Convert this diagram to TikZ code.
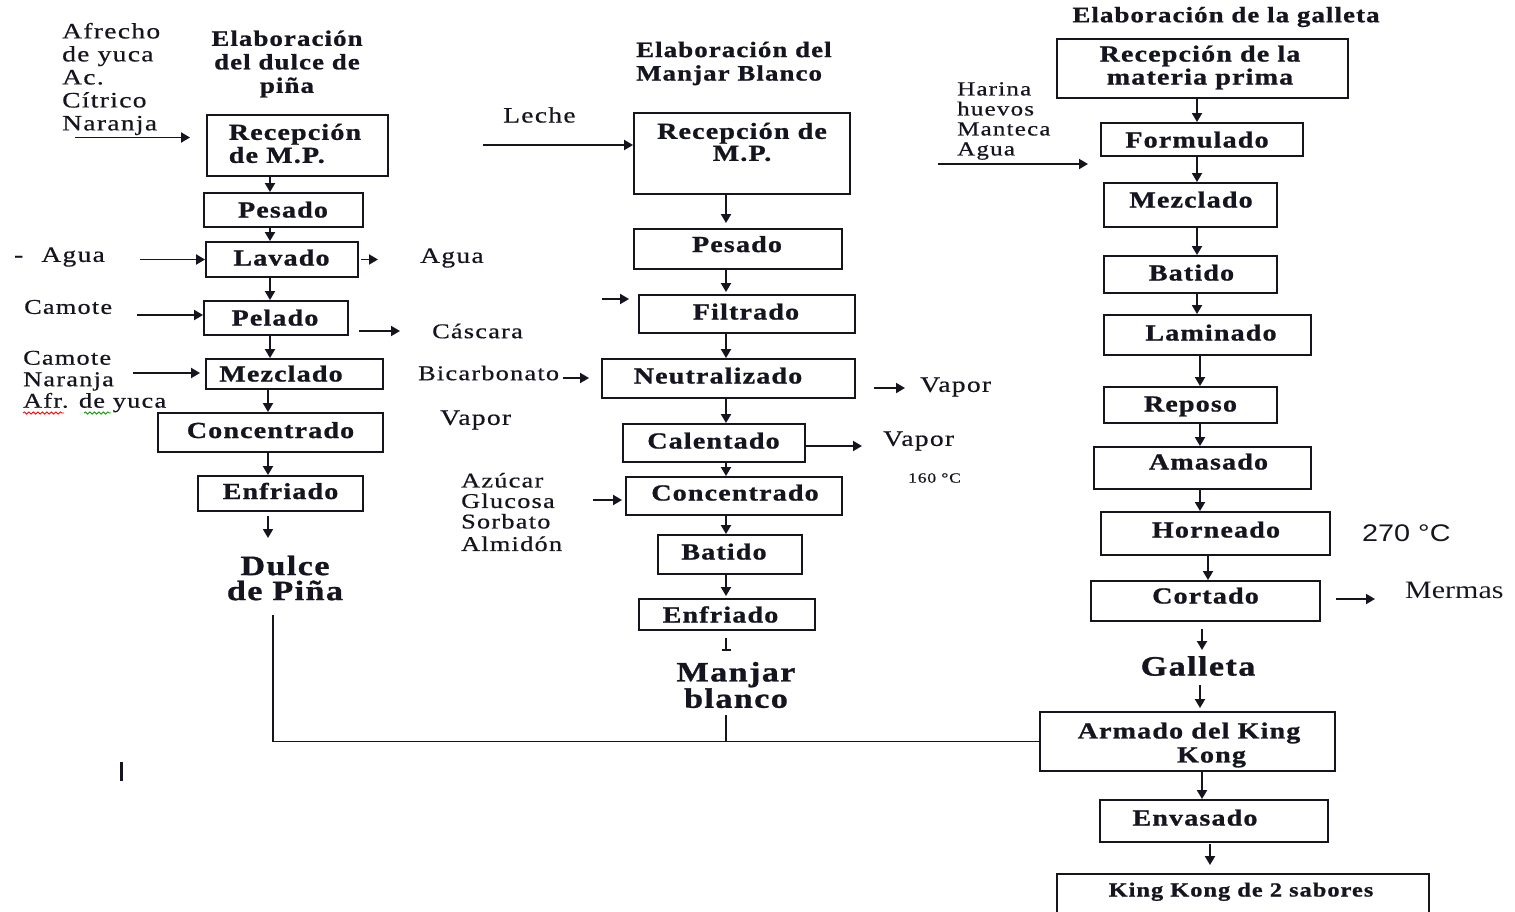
\documentclass[tikz,border=0pt]{standalone}
\usepackage{fontspec}
\usetikzlibrary{arrows.meta,decorations.pathmorphing}
\setmainfont{Liberation Serif}
\newfontfamily\boxfont{Liberation Serif}[FakeStretch=1.22,LetterSpace=5,BoldFeatures={FakeBold=1}]
\newfontfamily\lblfont{Liberation Serif}[FakeStretch=1.25,LetterSpace=6,FakeBold=0.6]
\newfontfamily\plainserif{Liberation Serif}[FakeStretch=1.2]
\newfontfamily\plainsans{Liberation Sans}[FakeStretch=1.2]
\definecolor{ink}{HTML}{15151F}

\begin{document}
\begin{tikzpicture}[x=1pt,y=-1pt,
  box/.style={draw=ink,line width=1.9pt,inner sep=0pt},
  bt/.style={inner sep=0pt,text=ink,font=\boxfont\bfseries\fontsize{23}{25}\selectfont,text height=15pt,text depth=0pt},
  btm/.style={inner sep=0pt,text=ink,font=\boxfont\bfseries\fontsize{23}{23}\selectfont,align=center},
  ttl/.style={inner sep=0pt,text=ink,font=\boxfont\bfseries\fontsize{22}{23.5}\selectfont,align=center},
  prod/.style={inner sep=0pt,text=ink,font=\boxfont\bfseries\fontsize{28}{25}\selectfont,align=center},
  lbl/.style={inner sep=0pt,text=ink,anchor=west,font=\lblfont\fontsize{22}{23}\selectfont,align=left},
  lbls/.style={lbl,font=\lblfont\fontsize{21}{21.5}\selectfont},
  arr/.style={draw=ink,line width=1.9pt,-{Triangle[length=9pt,width=10pt]}},
  ln/.style={draw=ink,line width=1.9pt},
  wavy/.style={line width=0.8pt,decorate,decoration={snake,amplitude=1.1pt,segment length=4.5pt}}
]
\useasboundingbox (0,0) rectangle (1515,911);
\clip (0,0) rectangle (1515,911);

% ---------- Dulce de piña ----------
\node[ttl] (tL) at (287,64) {Elaboración\\del dulce de\\piña};
\node[lbl] (inL1) at (62,79) {Afrecho\\de yuca\\Ac.\\Cítrico\\Naranja};

\node[box,minimum width=181pt,minimum height=61pt] (L1) at (297.5,145.5) {};
\node[btm,align=left] (L1t) at (295,143.5) {Recepción\\de M.P.};
\node[box,minimum width=159pt,minimum height=34pt] (L2) at (283.5,210) {};
\node[bt] (L2t) at (283,210) {Pesado};
\node[box,minimum width=152pt,minimum height=35pt] (L3) at (282,259.5) {};
\node[bt] (L3t) at (281.5,258) {Lavado};
\node[box,minimum width=144pt,minimum height=34pt] (L4) at (276,318) {};
\node[bt] (L4t) at (275,318) {Pelado};
\node[box,minimum width=177pt,minimum height=30pt] (L5) at (294.5,374) {};
\node[bt] (L5t) at (281,374) {Mezclado};
\node[box,minimum width=225pt,minimum height=39pt] (L6) at (270.5,432.5) {};
\node[bt] (L6t) at (270.5,430.5) {Concentrado};
\node[box,minimum width=165pt,minimum height=35pt] (L7) at (280.5,493.5) {};
\node[bt] (L7t) at (280.5,491.5) {Enfriado};
\node[prod] (dulce) at (285,578) {Dulce\\de Piña};

\node[lbl] (inL3) at (14,257) {-\hspace{18pt}Agua};
\node[lbl] (outL3) at (420,258) {Agua};
\node[lbls] (inL4) at (24,307) {Camote};
\node[lbls] (outL4) at (432,331) {Cáscara};
\node[lbls] (inL5) at (23,381.5) {Camote\\Naranja\\Afr. de yuca};
\draw[wavy,red] (23,413) -- (64,413);
\draw[wavy,green!60!black] (84,413) -- (111,413);

\coordinate (aL1) at (75,137.5);
\coordinate (aL3) at (140,259.5);
\coordinate (oL3) at (378,259.5);
\coordinate (aL4) at (137,315);
\coordinate (oL4) at (400,331);
\coordinate (aL5) at (133,373);
\coordinate (eL7) at (268,538);
\coordinate (jD) at (273,615);

\draw[arr,shorten >=16pt] (aL1) -- (aL1 -| L1.west);
\draw[arr] (aL3) -- (L3.west);
\draw[arr,shorten <=2pt] (L3.east) -- (oL3);
\draw[arr] (aL4) -- (aL4 -| L4.west);
\draw[arr,shorten <=10pt] (L4.east |- oL4) -- (oL4);
\draw[arr,shorten >=5pt] (aL5) -- (aL5 -| L5.west);

\draw[arr] (L1.south -| 270,0) -- (L2.north -| 270,0);
\draw[arr] (L2.south -| 270,0) -- (L3.north -| 270,0);
\draw[arr] (L3.south -| 270,0) -- (L4.north -| 270,0);
\draw[arr] (L4.south -| 270,0) -- (L5.north -| 270,0);
\draw[arr] (L5.south -| 268,0) -- (L6.north -| 268,0);
\draw[arr] (L6.south -| 268,0) -- (L7.north -| 268,0);
\draw[arr,shorten <=4pt] (L7.south -| 268,0) -- (eL7);

% ---------- Manjar blanco ----------
\node[ttl,align=left,anchor=west] (tM) at (636,63.5) {Elaboración del\\Manjar Blanco};
\node[lbl] (inM1) at (503,115) {Leche};

\node[box,minimum width=216pt,minimum height=81pt] (M1) at (742,153.5) {};
\node[btm,font=\boxfont\bfseries\fontsize{23}{22}\selectfont] (M1t) at (742,142) {Recepción de\\M.P.};
\node[box,minimum width=208pt,minimum height=40pt] (M2) at (738,249) {};
\node[bt] (M2t) at (737,244.5) {Pesado};
\node[box,minimum width=216pt,minimum height=38pt] (M3) at (747,314) {};
\node[bt] (M3t) at (746,312) {Filtrado};
\node[box,minimum width=253pt,minimum height=39pt] (M4) at (728.5,378.5) {};
\node[bt] (M4t) at (718,376) {Neutralizado};
\node[box,minimum width=182pt,minimum height=38pt] (M5) at (714,443) {};
\node[bt] (M5t) at (713.5,441) {Calentado};
\node[box,minimum width=216pt,minimum height=38pt] (M6) at (734,496) {};
\node[bt] (M6t) at (735,493) {Concentrado};
\node[box,minimum width=144pt,minimum height=39pt] (M7) at (730,554.5) {};
\node[bt] (M7t) at (724,552) {Batido};
\node[box,minimum width=176pt,minimum height=31pt] (M8) at (727,614.5) {};
\node[bt] (M8t) at (720.5,615) {Enfriado};
\node[prod] (manjar) at (736,685) {Manjar\\blanco};

\node[lbls] (inM4) at (418,373) {Bicarbonato};
\node[lbl] (vapM) at (440,420) {Vapor};
\node[lbl] (outM4) at (920,387) {Vapor};
\node[lbl] (outM5) at (883,441) {Vapor};
\node[lbl,font=\lblfont\fontsize{14}{14}\selectfont] (tM5) at (908,478) {160 °C};
\node[lbls,font=\lblfont\fontsize{21}{20.5}\selectfont] (inM6) at (461,512) {Azúcar\\Glucosa\\Sorbato\\[2pt]Almidón};

\coordinate (aM1) at (483,145);
\coordinate (aM3) at (602,299);
\coordinate (aM4) at (563,378);
\coordinate (oM4) at (905,388);
\coordinate (oM5) at (862,446);
\coordinate (aM6) at (593,500);
\coordinate (eM8) at (726,651);
\coordinate (jM) at (726,715);

\draw[arr] (aM1) -- (aM1 -| M1.west);
\draw[arr,shorten >=9pt] (aM3) -- (aM3 -| M3.west);
\draw[arr,shorten >=12pt] (aM4) -- (aM4 -| M4.west);
\draw[arr,shorten <=18pt] (M4.east |- oM4) -- (oM4);
\draw[arr] (M5.east |- oM5) -- (oM5);
\draw[arr,shorten >=3pt] (aM6) -- (aM6 -| M6.west);

\draw[arr,shorten >=5pt] (M1.south -| 726,0) -- (M2.north -| 726,0);
\draw[arr,shorten >=2pt] (M2.south -| 726,0) -- (M3.north -| 726,0);
\draw[arr] (M3.south -| 726,0) -- (M4.north -| 726,0);
\draw[arr] (M4.south -| 726,0) -- (M5.north -| 726,0);
\draw[arr] (M5.south -| 726,0) -- (M6.north -| 726,0);
\draw[arr] (M6.south -| 726,0) -- (M7.north -| 726,0);
\draw[arr,shorten >=2pt] (M7.south -| 726,0) -- (M8.north -| 726,0);
\draw[draw=ink,line width=1.4pt,-{Bar[width=9pt,line width=1.8pt]},shorten <=7pt] (M8.south -| 726,0) -- (eM8);

% ---------- Galleta ----------
\node[ttl] (tR) at (1226,17) {Elaboración de la galleta};
\node[lbls,font=\lblfont\fontsize{20}{20}\selectfont] (inR) at (957,121) {Harina\\huevos\\Manteca\\Agua};

\node[box,minimum width=291pt,minimum height=59pt] (R1) at (1202.5,68.5) {};
\node[btm] (R1t) at (1200,67.5) {Recepción de la\\materia prima};
\node[box,minimum width=202pt,minimum height=33pt] (R2) at (1202,139.5) {};
\node[bt] (R2t) at (1197,140) {Formulado};
\node[box,minimum width=173pt,minimum height=44pt] (R3) at (1190.5,205) {};
\node[bt] (R3t) at (1191,200) {Mezclado};
\node[box,minimum width=173pt,minimum height=37pt] (R4) at (1190.5,274.5) {};
\node[bt] (R4t) at (1191.5,273) {Batido};
\node[box,minimum width=207pt,minimum height=40pt] (R5) at (1207.5,335) {};
\node[bt] (R5t) at (1211,333) {Laminado};
\node[box,minimum width=173pt,minimum height=36pt] (R6) at (1190.5,405) {};
\node[bt] (R6t) at (1190.5,404) {Reposo};
\node[box,minimum width=217pt,minimum height=42pt] (R7) at (1202.5,468) {};
\node[bt] (R7t) at (1208.5,462) {Amasado};
\node[box,minimum width=229pt,minimum height=43pt] (R8) at (1215.5,533.5) {};
\node[bt] (R8t) at (1216,530) {Horneado};
\node[box,minimum width=229pt,minimum height=40pt] (R9) at (1205.5,601) {};
\node[bt] (R9t) at (1205.5,596) {Cortado};
\node[prod] (galleta) at (1198,666) {Galleta};
\node[box,minimum width=295pt,minimum height=59pt] (R10) at (1187.5,741.5) {};
\node[btm,font=\boxfont\bfseries\fontsize{23}{24}\selectfont] (R10t) at (1189,745) {Armado del King\\\hspace*{45pt}Kong};
\node[box,minimum width=228pt,minimum height=42pt] (R11) at (1214,821) {};
\node[bt] (R11t) at (1195,818) {Envasado};
\node[box,minimum width=372pt,minimum height=54pt] (R12) at (1243,901) {};
\node[bt,font=\boxfont\bfseries\fontsize{20}{22}\selectfont,text height=13pt] (R12t) at (1241,890) {King Kong de 2 sabores};

\node[inner sep=0pt,anchor=west,text=ink,font=\plainsans\fontsize{24}{24}\selectfont] (tR8) at (1362,533) {270 °C};
\node[inner sep=0pt,anchor=west,text=ink,font=\plainserif\fontsize{25}{25}\selectfont] (outR9) at (1405,590) {Mermas};

\coordinate (aR) at (938,164);
\coordinate (eR) at (1088,164);
\coordinate (oR9) at (1375,599);
\coordinate (eR9) at (1202,650);
\coordinate (sG) at (1200,685);

\draw[arr] (aR) -- (eR);
\draw[arr,shorten <=15pt] (R9.east |- oR9) -- (oR9);

\draw[arr] (R1.south -| 1197,0) -- (R2.north -| 1197,0);
\draw[arr] (R2.south -| 1197,0) -- (R3.north -| 1197,0);
\draw[arr] (R3.south -| 1197,0) -- (R4.north -| 1197,0);
\draw[arr] (R4.south -| 1197,0) -- (R5.north -| 1197,0);
\draw[arr] (R5.south -| 1200,0) -- (R6.north -| 1200,0);
\draw[arr] (R6.south -| 1200,0) -- (R7.north -| 1200,0);
\draw[arr] (R7.south -| 1200,0) -- (R8.north -| 1200,0);
\draw[arr] (R8.south -| 1208,0) -- (R9.north -| 1208,0);
\draw[arr,shorten <=7pt] (R9.south -| 1202,0) -- (eR9);
\draw[arr,shorten >=3pt] (sG) -- (R10.north -| sG);
\draw[arr] (R10.south -| 1202,0) -- (R11.north -| 1202,0);
\draw[arr,shorten <=1pt,shorten >=8pt] (R11.south -| 1210,0) -- (R12.north -| 1210,0);

% ---------- assembly ----------
\draw[ln] (jD) |- (R10.west);
\draw[ln] (jM) -- (jM |- R10.west);
\draw[draw=ink,line width=3pt] (121,762) -- (121,781);
\end{tikzpicture}
\end{document}
